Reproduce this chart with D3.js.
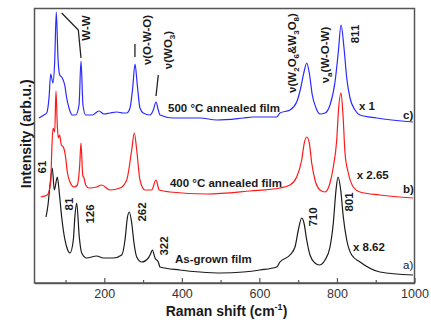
<!DOCTYPE html>
<html><head><meta charset="utf-8">
<script src="https://cdn.jsdelivr.net/npm/d3@7"></script>
<style>
body{margin:0;background:#fff;}
svg{display:block;font-family:"Liberation Sans",Arial,sans-serif;}
</style></head><body>
<svg id="c" width="431" height="320"></svg>
<script>
// Raman shift (cm^-1) and intensity (arb.u., offset stacked)
const seriesA_x = [49.7,54.8,60,65.9,71.1,78.8,84.5,90.1,94.3,103,111.6,120.1,124.5,128.8,135.5,141.7,154.6,180.4,197.4,223.2,244.9,253.4,259.4,264.5,270.7,276.6,283.6,296.5,313.6,319.3,323.9,330.9,339.3,343.7,395.2,446.8,500,558.5,601.5,644.6,653,678.9,691.8,700.4,709.1,715,722,730.5,743.4,754.5,769.2,782.1,790.6,797.6,802.7,809.7,816.4,825.2,838.1,859.5,911,996];
const seriesA_y = [66,78,98,115,93,106,88,66,53,36,30,43,68,80,46,30,25,27,25,25,28,43,65,71,60,40,26,21,25,29,33,25,21,16,13,11,10,11,13,16,21,28,36,53,65,60,43,28,20,18,23,36,60,93,106,93,66,43,28,21,11,8];

const seriesB_x = [36,53,61.8,64.4,67.7,72.1,75.4,78.8,81.4,85,89.1,94.3,100.5,104.6,111.6,121.9,130.4,136.6,139.9,144.3,147.7,152,160.5,180.4,193.3,214.7,240.5,257.8,270.7,277.4,283.6,292,304.9,322.2,333.3,341.8,369.4,464.9,575.8,653.1,678.9,696.2,709.1,715.8,722,728.7,734.9,743.4,756.3,769.2,782.1,790.6,799.4,804,810.5,815.6,820.8,829.3,842.2,859.5,911,996];
const seriesB_y = [86,88,101,131,155,151,192,158,145,148,138,136,125,111,101,96,98,118,140,108,105,98,95,96,98,93,95,103,133,150,133,103,93,93,103,93,91,89,92,95,98,106,123,140,146,140,120,103,93,91,100,116,143,173,190,168,130,110,96,91,88,85];

const seriesC_x = [31.6,44.5,51.5,57.4,61.8,67.7,72.1,76.2,80.6,85,91.7,97.9,103,109,117.5,126.2,134.8,139.9,145,152,169,186.3,199,214.7,232,249,257.8,266.3,273.2,279.2,285.1,292,300.6,317.9,326.4,333.3,339.3,343.7,378,446.8,489.9,558.5,583.5,644.6,653.1,678.9,696.2,706.5,715,722,728.7,736.4,746,756.3,769.2,782.1,795,803.5,810.5,818.2,825.2,833.7,846.6,859.5,902.5,996];
const seriesC_y = [165,168,170,185,209,200,222,271,225,208,205,198,185,175,168,168,178,222,178,168,168,172,169,170,171,170,170,175,195,219,198,175,170,168,173,181,173,168,165,165,163,165,166,166,170,173,181,195,211,220,210,188,175,169,170,178,201,231,258,235,205,185,173,168,165,161];

const seriesColors = ["#1a1a1a","#ff1a1a","#2a2aff"];

const xTickMajor = [200,400,600,800,1000];
const xTickMinor = [100,300,500,700,900];
const xLabel = "Raman shift (cm";
const yLabel = "Intensity (arb.u.)";

// text annotations: text parts, x (cm^-1), y (intensity)
const peakLabels = [
  {t:[["61"]], x:40.1, y:116},
  {t:[["81"]], x:109.7, y:79},
  {t:[["126"]], x:163.1, y:69},
  {t:[["262"]], x:296.5, y:71},
  {t:[["322"]], x:354.9, y:37},
  {t:[["710"]], x:739, y:66},
  {t:[["801"]], x:830.4, y:81},
  {t:[["811"]], x:846.6, y:249},
  {t:[["W-W"]], x:152.8, y:255},
  {t:[["ν(O-W-O)"]], x:309.4, y:243},
  {t:[["ν(WO"],["3","sub"],[")"]], x:364.3, y:233},
  {t:[["ν(W"],["2","sub"],["O"],["6","sub"],["&W"],["3","sub"],["O"],["8","sub"],[")"]], x:683.3, y:230},
  {t:[["ν"],["a","sub"],["(W-O-W)"]], x:769.2, y:228}
];
const sideLabels = [
  {t:"500 °C annealed film", x:364.3, y:175, bold:1},
  {t:"400 °C annealed film", x:369.4, y:100, bold:1},
  {t:"As-grown film", x:382.3, y:24, bold:1},
  {t:"x 1", x:856.9, y:177, bold:1},
  {t:"x 2.65", x:851, y:108, bold:1},
  {t:"x 8.62", x:841.2, y:36, bold:1},
  {t:"c)", x:970.4, y:168, bold:1},
  {t:"b)", x:970.4, y:94, bold:1},
  {t:"a)", x:970.4, y:18, bold:0}
];
// leader lines in data units
const leaders = [
  [[90.1,270],[133,253],[139.9,225]],
  [[279,239],[279,226]],
  [[339.3,208],[333.3,187]]
];

const svg = d3.select("#c");
const L=34.5, R=414.5, T=8.5, B=283;
const x = d3.scaleLinear().domain([20,1000]).range([L,R]);
const y = d3.scaleLinear().domain([0,274.5]).range([B,T]);

const line = d3.line().x(d=>x(d[0])).y(d=>y(d[1])).curve(d3.curveMonotoneX);
const series = [
  d3.zip(seriesA_x, seriesA_y),
  d3.zip(seriesB_x, seriesB_y),
  d3.zip(seriesC_x, seriesC_y)
];
svg.append("g").selectAll("path").data(series).join("path")
  .attr("d", line).attr("fill","none")
  .attr("stroke",(d,i)=>seriesColors[i]).attr("stroke-width",1.2)
  .attr("stroke-linejoin","round");

// frame
svg.append("rect").attr("x",L).attr("y",T).attr("width",R-L).attr("height",B-T)
  .attr("fill","none").attr("stroke","#555").attr("stroke-width",1.5);

// axis
const ax = d3.axisBottom(x).tickValues(xTickMajor).tickSizeInner(-5).tickSizeOuter(0).tickPadding(6).tickFormat(d3.format("d"));
const g = svg.append("g").attr("transform",`translate(0,${B})`).call(ax);
g.select(".domain").attr("stroke","#555").attr("stroke-width",1.5);
g.selectAll(".tick line").attr("stroke","#555").attr("stroke-width",1.2);
g.selectAll(".tick text").attr("font-size",12.5).attr("fill","#333").attr("font-family","Liberation Sans, Arial, sans-serif");
const gm = svg.append("g").attr("transform",`translate(0,${B})`)
  .call(d3.axisBottom(x).tickValues(xTickMinor).tickSizeInner(-3).tickSizeOuter(0).tickFormat(""));
gm.select(".domain").remove();
gm.selectAll(".tick line").attr("stroke","#555").attr("stroke-width",1.2);

// axis titles
const xt = svg.append("text").attr("x",(L+R)/2+2).attr("y",315.5).attr("text-anchor","middle")
  .attr("font-size",14).attr("font-weight","bold").attr("fill","#1a1a1a");
xt.append("tspan").text(xLabel);
xt.append("tspan").attr("font-size",9).attr("dy",-6).text("-1");
xt.append("tspan").attr("dy",6).text(")");
svg.append("text").attr("transform",`translate(31,${(T+B)/2-12}) rotate(-90)`)
  .attr("text-anchor","middle").attr("font-size",14).attr("font-weight","bold")
  .attr("fill","#1a1a1a").text(yLabel);

// leaders
svg.append("g").selectAll("path").data(leaders).join("path")
  .attr("d", d3.line().x(d=>x(d[0])).y(d=>y(d[1])))
  .attr("fill","none").attr("stroke","#222").attr("stroke-width",1.3);

// peak labels (rotated)
peakLabels.forEach(p=>{
  const t = svg.append("text").attr("transform",`translate(${x(p.x)},${y(p.y)}) rotate(-90)`)
    .attr("text-anchor","middle").attr("dy","0.35em").attr("font-size",11.5)
    .attr("font-weight","bold").attr("fill","#1a1a1a");
  let shifted=false;
  p.t.forEach(part=>{
    const s = t.append("tspan").text(part[0]);
    if(part[1]==="sub"){ s.attr("font-size",8).attr("dy",3); shifted=true; }
    else if(shifted){ s.attr("dy",-3); shifted=false; }
  });
});
sideLabels.forEach(s=>{
  svg.append("text").attr("x",x(s.x)).attr("y",y(s.y)).attr("dy","0.35em")
    .attr("font-size",11.5).attr("font-weight",s.bold?"bold":"normal")
    .attr("fill","#1a1a1a").text(s.t);
});
</script>
</body></html>
